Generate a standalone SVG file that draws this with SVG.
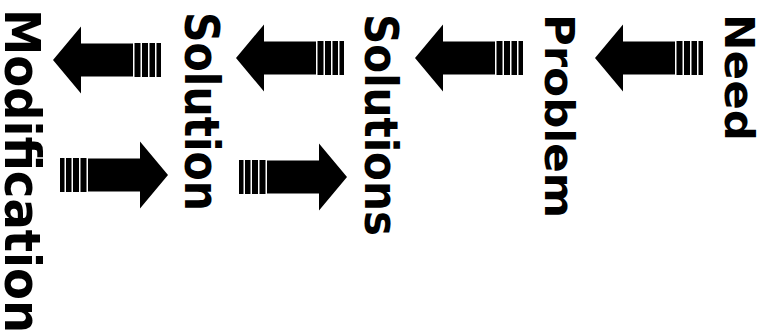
<svg xmlns="http://www.w3.org/2000/svg" xmlns:xlink="http://www.w3.org/1999/xlink" width="774" height="334" viewBox="0 0 774 334">
<style>
.lbl{font-family:"DejaVu Sans","Liberation Sans",sans-serif;font-weight:bold;fill:#000}
.ar{fill:#000}
</style>
<defs>
<g id="larrow">
<path class="ar" d="M0,0 L28,-33.5 L28,-16.5 L80,-16.5 L80,16.5 L28,16.5 L28,33.5 Z"/>
<rect class="ar" x="81.5" y="-17" width="6" height="34"/>
<rect class="ar" x="89" y="-17" width="6" height="34"/>
<rect class="ar" x="96.5" y="-17" width="5.5" height="34"/>
<rect class="ar" x="103.5" y="-17" width="4.5" height="34"/>
</g>
</defs>
<rect width="774" height="334" fill="#fff"/>
<g id="connectors">
<use xlink:href="#larrow" transform="translate(595,58)"/>
<use xlink:href="#larrow" transform="translate(415,58)"/>
<use xlink:href="#larrow" transform="translate(236,58)"/>
<use xlink:href="#larrow" transform="translate(53,60)"/>
<use xlink:href="#larrow" transform="translate(347,177) scale(-1,1)"/>
<use xlink:href="#larrow" transform="translate(168,175) scale(-1,1)"/>
</g>
<g id="need"><text class="lbl" font-size="41" transform="translate(725,14) rotate(90)" textLength="127" lengthAdjust="spacingAndGlyphs">Need</text></g>
<g id="problem"><text class="lbl" font-size="41" transform="translate(545,14) rotate(90)" textLength="204" lengthAdjust="spacingAndGlyphs">Problem</text></g>
<g id="solutions"><text class="lbl" font-size="46" transform="translate(365,14) rotate(90)" textLength="222" lengthAdjust="spacingAndGlyphs">Solutions</text></g>
<g id="solution"><text class="lbl" font-size="48" transform="translate(185,12) rotate(90)" textLength="199" lengthAdjust="spacingAndGlyphs">Solution</text></g>
<g id="modification"><text class="lbl" font-size="50" transform="translate(5,9) rotate(90)" textLength="324" lengthAdjust="spacingAndGlyphs">Modification</text></g>
</svg>
